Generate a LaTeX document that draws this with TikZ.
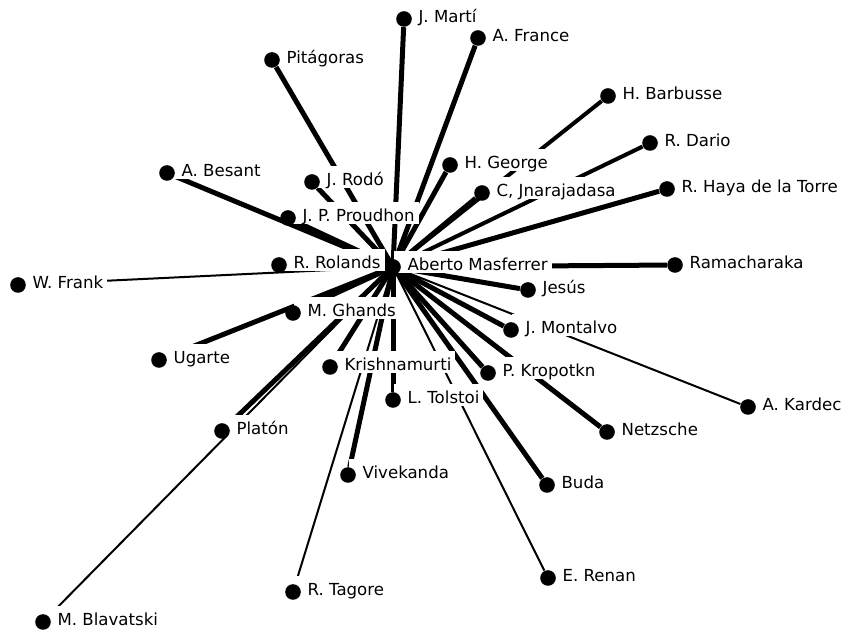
\documentclass[tikz,border=0pt]{standalone}
\usepackage{fontspec}
\setmainfont{DejaVu Sans}
\usetikzlibrary{positioning,backgrounds}
\pgfdeclarelayer{foreground}
\pgfsetlayers{background,main,foreground}

\tikzset{
  persona/.style={circle,fill=black,minimum size=7.8pt,inner sep=0pt},
  nombre/.style={fill=white,inner xsep=2pt,inner ysep=0pt,text height=10pt,text depth=1pt,
    yshift=2.5pt,font=\fontsize{8.3}{9}\selectfont,execute at begin node={\hspace*{5pt}}},
  grueso/.style={line width=2.5pt},
  medio/.style={line width=2pt},
  fino/.style={line width=1pt},
}

\begin{document}
\begin{tikzpicture}[x=0.5pt,y=-0.5pt]
\useasboundingbox (0,0) rectangle (841,635);

% Puntos (por encima de todo)
\begin{pgfonlayer}{foreground}
\node[persona] (masferrer) at (393,267) {};
\node[persona] (marti) at (404,19) {};
\node[persona] (france) at (478,38) {};
\node[persona] (pitagoras) at (272,60) {};
\node[persona] (barbusse) at (608,96) {};
\node[persona] (dario) at (650,143) {};
\node[persona] (george) at (450,165) {};
\node[persona] (besant) at (167,173) {};
\node[persona] (rodo) at (312,182) {};
\node[persona] (jinarajadasa) at (482,193) {};
\node[persona] (haya) at (667,189) {};
\node[persona] (proudhon) at (288,218) {};
\node[persona] (rolland) at (279,265) {};
\node[persona] (frank) at (18,285) {};
\node[persona] (ramacharaka) at (675,265) {};
\node[persona] (jesus) at (528,290) {};
\node[persona] (gandhi) at (293,313) {};
\node[persona] (montalvo) at (511,330) {};
\node[persona] (ugarte) at (159,360) {};
\node[persona] (krishnamurti) at (330,367) {};
\node[persona] (kropotkin) at (488,373) {};
\node[persona] (tolstoi) at (393,400) {};
\node[persona] (kardec) at (748,407) {};
\node[persona] (platon) at (222,431) {};
\node[persona] (nietzsche) at (607,432) {};
\node[persona] (vivekananda) at (348,475) {};
\node[persona] (buda) at (547,485) {};
\node[persona] (renan) at (548,578) {};
\node[persona] (tagore) at (293,592) {};
\node[persona] (blavatski) at (43,622) {};
\end{pgfonlayer}

% Nombres
\node[nombre,right=-4pt of masferrer] (t-masferrer) {Aberto Masferrer};
\node[nombre,right=-4pt of marti] (t-marti) {J. Martí};
\node[nombre,right=-4pt of france] (t-france) {A. France};
\node[nombre,right=-4pt of pitagoras] (t-pitagoras) {Pitágoras};
\node[nombre,right=-4pt of barbusse] (t-barbusse) {H. Barbusse};
\node[nombre,right=-4pt of dario] (t-dario) {R. Dario};
\node[nombre,right=-4pt of george] (t-george) {H. George};
\node[nombre,right=-4pt of besant] (t-besant) {A. Besant};
\node[nombre,right=-4pt of rodo] (t-rodo) {J. Rodó};
\node[nombre,right=-4pt of jinarajadasa] (t-jinarajadasa) {C, Jnarajadasa};
\node[nombre,right=-4pt of haya] (t-haya) {R. Haya de la Torre};
\node[nombre,right=-4pt of proudhon] (t-proudhon) {J. P. Proudhon};
\node[nombre,right=-4pt of rolland] (t-rolland) {R. Rolands};
\node[nombre,right=-4pt of frank] (t-frank) {W. Frank};
\node[nombre,right=-4pt of ramacharaka] (t-ramacharaka) {Ramacharaka};
\node[nombre,right=-4pt of jesus] (t-jesus) {Jesús};
\node[nombre,right=-4pt of gandhi] (t-gandhi) {M. Ghands};
\node[nombre,right=-4pt of montalvo] (t-montalvo) {J. Montalvo};
\node[nombre,right=-4pt of ugarte] (t-ugarte) {Ugarte};
\node[nombre,right=-4pt of krishnamurti] (t-krishnamurti) {Krishnamurti};
\node[nombre,right=-4pt of kropotkin] (t-kropotkin) {P. Kropotkn};
\node[nombre,right=-4pt of tolstoi] (t-tolstoi) {L. Tolstoi};
\node[nombre,right=-4pt of kardec] (t-kardec) {A. Kardec};
\node[nombre,right=-4pt of platon] (t-platon) {Platón};
\node[nombre,right=-4pt of nietzsche] (t-nietzsche) {Netzsche};
\node[nombre,right=-4pt of vivekananda] (t-vivekananda) {Vivekanda};
\node[nombre,right=-4pt of buda] (t-buda) {Buda};
\node[nombre,right=-4pt of renan] (t-renan) {E. Renan};
\node[nombre,right=-4pt of tagore] (t-tagore) {R. Tagore};
\node[nombre,right=-4pt of blavatski] (t-blavatski) {M. Blavatski};

% Enlaces (detrás de nodos y nombres)
\begin{scope}[on background layer]
\draw[grueso] (masferrer.center) -- (marti);
\draw[grueso] (masferrer.center) -- (france);
\draw[grueso] (masferrer.center) -- (pitagoras);
\draw[medio]  (masferrer.center) -- (barbusse);
\draw[medio]  (masferrer.center) -- (dario);
\draw[grueso] (masferrer.center) -- (george);
\draw[grueso] (masferrer.center) -- (besant);
\draw[grueso] (masferrer.center) -- (rodo);
\draw[grueso] (masferrer.center) -- (jinarajadasa);
\draw[grueso] (masferrer.center) -- (haya);
\draw[grueso] (masferrer.center) -- (proudhon);
\draw[grueso] (masferrer.center) -- (rolland);
\draw[fino]   (masferrer.center) -- (frank);
\draw[grueso] (masferrer.center) -- (ramacharaka);
\draw[grueso] (masferrer.center) -- (jesus);
\draw[grueso] (masferrer.center) -- (gandhi);
\draw[grueso] (masferrer.center) -- (montalvo);
\draw[grueso] (masferrer.center) -- (ugarte);
\draw[grueso] (masferrer.center) -- (krishnamurti);
\draw[grueso] (masferrer.center) -- (kropotkin);
\draw[grueso] (masferrer.center) -- (tolstoi);
\draw[fino]   (masferrer.center) -- (kardec);
\draw[grueso] (masferrer.center) -- (platon);
\draw[grueso] (masferrer.center) -- (nietzsche);
\draw[grueso] (masferrer.center) -- (vivekananda);
\draw[grueso] (masferrer.center) -- (buda);
\draw[fino]   (masferrer.center) -- (renan);
\draw[fino]   (masferrer.center) -- (tagore);
\draw[fino]   (masferrer.center) -- (blavatski);
\end{scope}

\end{tikzpicture}
\end{document}
